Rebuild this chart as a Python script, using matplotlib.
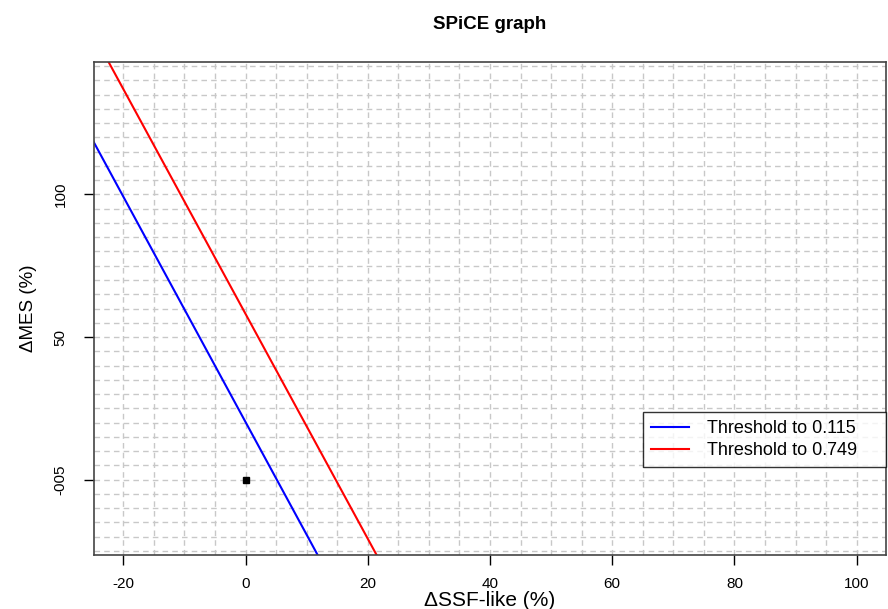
import numpy as np
import matplotlib
matplotlib.use("Agg")
import matplotlib.pyplot as plt

plt.rcParams['font.family'] = ['Liberation Sans', 'DejaVu Sans']
plt.rcParams['axes.unicode_minus'] = False

# Threshold lines (y = intercept + slope * x)
thresholds = ['0.115', '0.749']
intercepts = [20.2, 58.1]
slopes = [-3.95, -3.94]
colors = ['blue', 'red']

# Observed point
point_x = [0]
point_y = [0]

x_ticks = [-20, 0, 20, 40, 60, 80, 100]
y_ticks = [0, 50, 100]
y_tick_labels = ['-005', '50', '100']

xlim = (-24.8, 104.8)
ylim = (-26.4, 146.4)

fig = plt.figure(figsize=(8.88, 6.09), dpi=100)
ax = fig.add_axes([94/888, 1 - 555/609, 792/888, 493/609])

# grille en tirets tous les 5
for gx in np.arange(-20, 105, 5):
    ax.axvline(gx, color='#c8c8c8', lw=1, ls=(0, (4, 3)), zorder=0)
for gy in np.arange(-25, 150, 5):
    ax.axhline(gy, color='#c8c8c8', lw=1, ls=(0, (4, 3)), zorder=0)

xs = np.array([-40, 120])
for b, m, c, t in zip(intercepts, slopes, colors, thresholds):
    ax.plot(xs, b + m * xs, color=c, lw=1.5, label=f"Threshold to {t}", zorder=2)

ax.plot(point_x, point_y, 's', color='black', markersize=5, zorder=3)

ax.set_xlim(*xlim)
ax.set_ylim(*ylim)
ax.set_xticks(x_ticks)
ax.set_yticks(y_ticks)
ax.set_yticklabels(y_tick_labels, rotation=90, va='center')
ax.tick_params(direction='out', length=7, width=1, labelsize=11, pad=6)
ax.tick_params(axis='x', pad=9)
ax.tick_params(axis='y', pad=12)
for s in ax.spines.values():
    s.set_color('#444444')
    s.set_linewidth(1.2)

ax.set_xlabel('ΔSSF-like (%)', fontsize=15, labelpad=0)
ax.set_ylabel('ΔMES (%)', fontsize=13.5, labelpad=12)
ax.set_title('SPiCE graph', fontsize=13.5, fontweight='bold', pad=24)

leg = ax.legend(loc='lower left', bbox_to_anchor=(549/792, 88/493, 243/792, 57/493),
                mode='expand', fontsize=13,
                frameon=True, fancybox=False, edgecolor='black',
                handlelength=2.1, handletextpad=1.0, borderpad=0.45,
                labelspacing=0.25, borderaxespad=0)
leg.get_frame().set_linewidth(1.0)

fig.savefig('out.png', dpi=100)
